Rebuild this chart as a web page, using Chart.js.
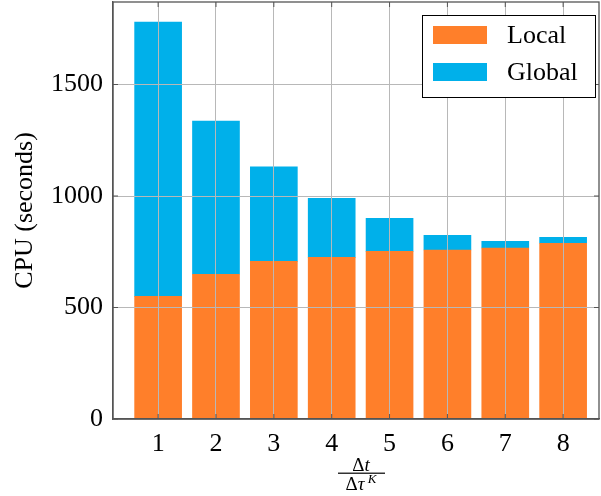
<!DOCTYPE html>
<html>
<head>
<meta charset="utf-8">
<script src="https://cdn.jsdelivr.net/npm/chart.js@4"></script>
<style>
  html, body { margin: 0; padding: 0; background: #fff; }
  #wrap { width: 601px; height: 496px; }
</style>
</head>
<body>
<div id="wrap"><canvas id="cpuChart"></canvas></div>
<script>
// données
const ratios = [1, 2, 3, 4, 5, 6, 7, 8];
const localCpu = [550, 649, 707, 725, 752, 758, 767, 788];
const globalCpu = [1230, 687, 424, 265, 148, 66, 30, 27];
const yTicks = [0, 500, 1000, 1500];

const FONT = '"Liberation Serif", "DejaVu Serif", serif';
const ORANGE = 'rgb(255,127,42)';
const BLUE = 'rgb(0,176,234)';
const GRID = '#b8b8b8';
const AXIS = '#555555';

// écrit une suite de morceaux (police, décalage) centrée sur cx
function drawRuns(ctx, runs, cx, y) {
  let w = 0;
  runs.forEach(r => { ctx.font = r.font; r.w = ctx.measureText(r.text).width; w += r.w; });
  let x = cx - w / 2;
  ctx.textAlign = 'left';
  ctx.textBaseline = 'alphabetic';
  runs.forEach(r => { ctx.font = r.font; ctx.fillText(r.text, x, y + (r.dy || 0)); x += r.w; });
}

// cadre, légende et titre fractionnaire
const extras = {
  id: 'extras',
  afterDraw(chart) {
    const { ctx, chartArea: a } = chart;
    ctx.save();
    ctx.strokeStyle = AXIS;
    ctx.lineWidth = 1.3;
    ctx.strokeRect(a.left, a.top, a.right - a.left, a.bottom - a.top);

    // petites graduations vers l'intérieur
    const xs = chart.scales.x, ys = chart.scales.y;
    ctx.lineWidth = 1;
    ratios.forEach(v => {
      const px = xs.getPixelForValue(v);
      ctx.beginPath(); ctx.moveTo(px, a.bottom); ctx.lineTo(px, a.bottom - 5); ctx.stroke();
      ctx.beginPath(); ctx.moveTo(px, a.top); ctx.lineTo(px, a.top + 5); ctx.stroke();
    });
    yTicks.forEach(v => {
      const py = ys.getPixelForValue(v);
      ctx.beginPath(); ctx.moveTo(a.left, py); ctx.lineTo(a.left + 5, py); ctx.stroke();
      ctx.beginPath(); ctx.moveTo(a.right, py); ctx.lineTo(a.right - 5, py); ctx.stroke();
    });

    // légende
    const lx = 422, ly = 15, lw = 173, lh = 82;
    ctx.fillStyle = '#fff';
    ctx.fillRect(lx, ly, lw, lh);
    ctx.strokeStyle = '#000';
    ctx.lineWidth = 1;
    ctx.strokeRect(lx + 0.5, ly + 0.5, lw, lh);
    chart.data.datasets.forEach((ds, i) => {
      const cy = 35 + i * 37;
      ctx.fillStyle = ds.backgroundColor;
      ctx.fillRect(433, cy - 9, 54, 18);
      ctx.fillStyle = '#000';
      ctx.font = '26px ' + FONT;
      ctx.textBaseline = 'middle';
      ctx.textAlign = 'left';
      ctx.fillText(ds.label, 507, cy + 1);
    });

    // titre de l'axe x : Δt / Δτ^K
    const cx = 361;
    ctx.fillStyle = '#000';
    drawRuns(ctx, [
      { text: 'Δ', font: '19px ' + FONT },
      { text: 't', font: 'italic 19px ' + FONT }
    ], cx, 471);
    ctx.fillRect(cx - 23, 472.6, 47, 1.2);
    drawRuns(ctx, [
      { text: 'Δ', font: '19px ' + FONT },
      { text: 'τ', font: 'italic 19px ' + FONT },
      { text: ' K', font: 'italic 13px ' + FONT, dy: -7 }
    ], cx, 490);
    ctx.restore();
  }
};

new Chart(document.getElementById('cpuChart'), {
  type: 'bar',
  data: {
    datasets: [
      {
        label: 'Local',
        data: ratios.map((r, i) => ({ x: r, y: localCpu[i] })),
        backgroundColor: ORANGE,
        barThickness: 47,
        stack: 's'
      },
      {
        label: 'Global',
        data: ratios.map((r, i) => ({ x: r, y: globalCpu[i] })),
        backgroundColor: BLUE,
        barThickness: 47,
        stack: 's'
      }
    ]
  },
  options: {
    responsive: true,
    maintainAspectRatio: false,
    animation: false,
    layout: { padding: { top: 2, right: 2, left: 0, bottom: 0 } },
    plugins: {
      legend: { display: false },
      tooltip: { enabled: false }
    },
    scales: {
      x: {
        type: 'linear',
        min: 0.22,
        max: 8.62,
        offset: false,
        stacked: true,
        afterBuildTicks: s => { s.ticks = ratios.map(v => ({ value: v })); },
        afterFit: s => { s.height = 77; s.paddingLeft = 0; s.paddingRight = 0; },
        grid: { color: GRID, lineWidth: 1, drawTicks: false, offset: false, z: 1 },
        border: { color: AXIS, width: 1.3, z: 2 },
        ticks: {
          padding: 10,
          color: '#000',
          font: { family: FONT, size: 26 },
          callback: v => String(v)
        }
      },
      y: {
        min: 0,
        max: 1870,
        stacked: true,
        afterBuildTicks: s => { s.ticks = yTicks.map(v => ({ value: v })); },
        afterFit: s => { s.width = 113; s.paddingTop = 0; s.paddingBottom = 0; },
        grid: { color: GRID, lineWidth: 1, drawTicks: false, z: 1 },
        border: { color: AXIS, width: 1.3, z: 2 },
        title: {
          display: true,
          text: 'CPU (seconds)',
          color: '#000',
          font: { family: FONT, size: 26 },
          padding: { top: 10, bottom: 0 }
        },
        ticks: {
          padding: 10,
          color: '#000',
          font: { family: FONT, size: 26 },
          callback: v => String(v)
        }
      }
    }
  },
  plugins: [extras]
});
</script>
</body>
</html>
